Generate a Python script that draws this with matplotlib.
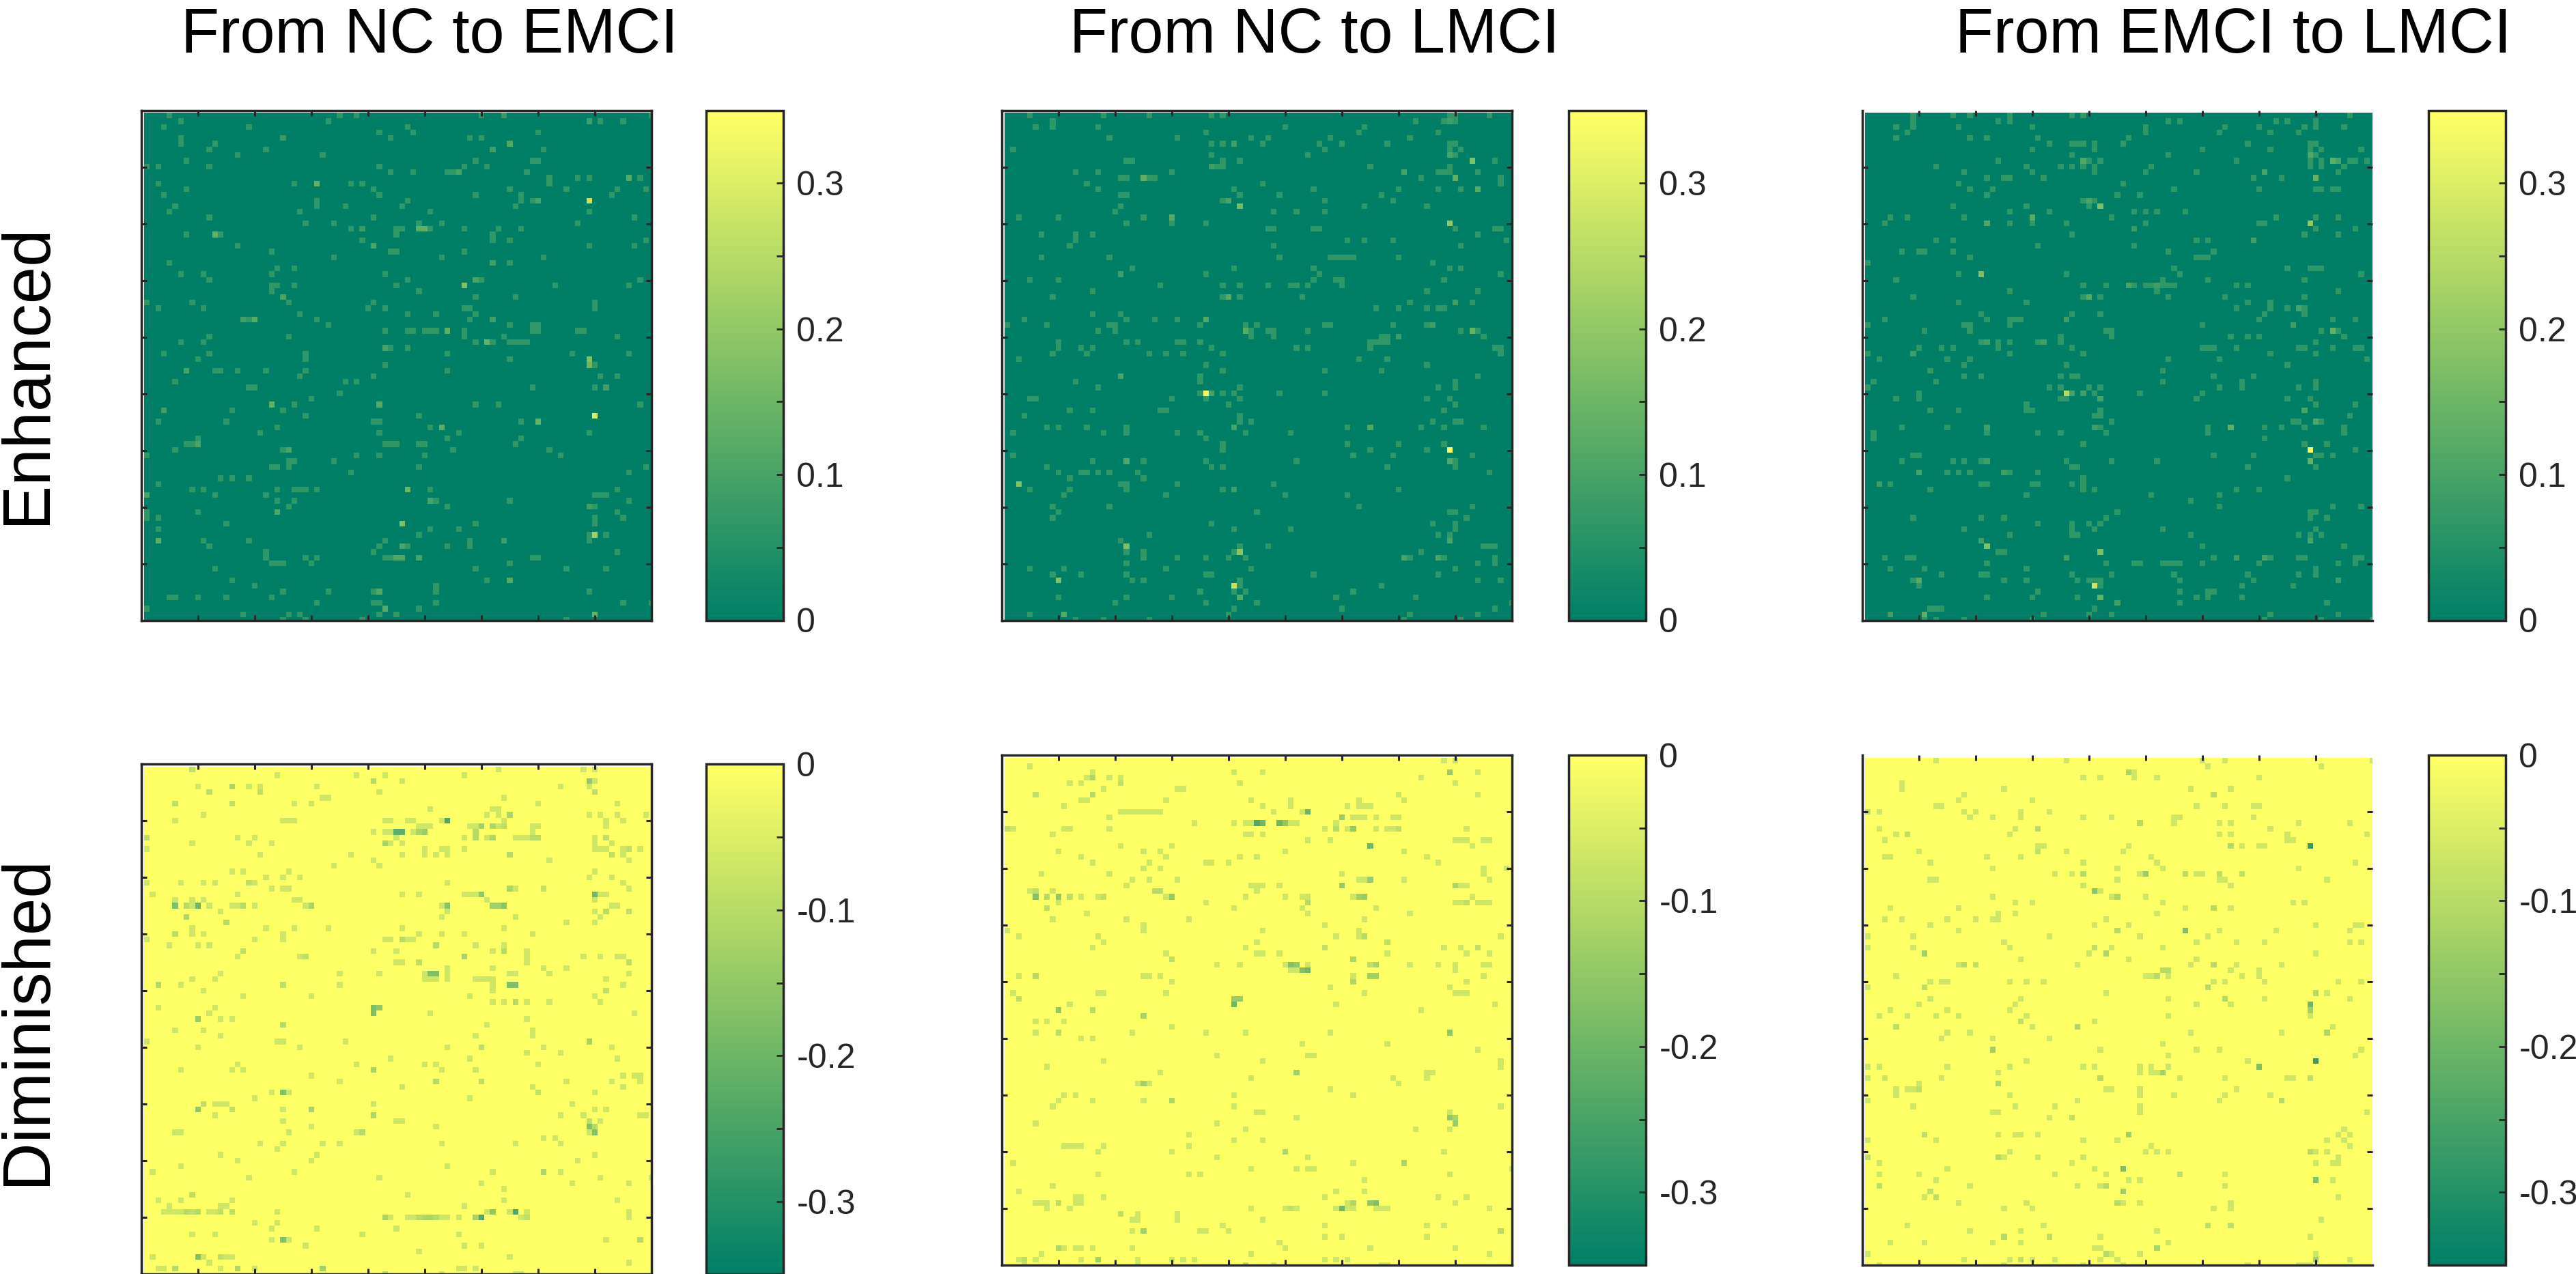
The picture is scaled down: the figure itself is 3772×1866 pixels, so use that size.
import matplotlib
matplotlib.use('Agg')
import matplotlib.pyplot as plt
import numpy as np

plt.rcParams['font.family'] = ['Liberation Sans', 'DejaVu Sans']

W, H = 3773, 1866

col_titles = ['From NC to EMCI', 'From NC to LMCI', 'From EMCI to LMCI']
row_titles = ['Enhanced', 'Diminished']
enh_ticks = [0, 0.1, 0.2, 0.3]
enh_labels = ['0', '0.1', '0.2', '0.3']
dim_ticks = [-0.3, -0.2, -0.1, 0]
dim_labels = ['-0.3', '-0.2', '-0.1', '0']
enh_minor = [0.05, 0.15, 0.25]
dim_minor = [-0.25, -0.15, -0.05]

faint_enh = 0.07
faint_dim = -0.07

# matrix cells that stand out: row -> columns (1-based, 90x90)
enh_nc_emci = {
    1: [5, 35, 38, 60, 64, 90], 2: [7, 33, 79, 81, 85], 3: [4, 19, 47], 4: [42, 48, 70],
    5: [7, 25, 44, 58, 60], 6: [7, 13, 65], 7: [12, 22, 62, 71], 8: [17, 32],
    9: [8, 59, 69, 70], 10: [1, 3, 12, 42, 57, 61], 11: [44, 48, 54, 55, 56, 68],
    12: [72, 77, 79, 86, 88], 13: [3, 27, 31, 37, 39, 72], 14: [8, 41, 65, 75, 84, 89],
    15: [4, 42, 59, 67, 83], 16: [31, 47, 67, 69, 70, 79], 17: [6, 31, 36, 46, 66],
    18: [5, 28, 51, 79], 19: [12, 41, 87], 20: [29, 34, 49, 53, 77],
    21: [37, 39, 45, 46, 49, 50, 51, 57, 63, 67], 22: [8, 13, 14, 45, 62],
    23: [39, 62, 65, 89], 24: [17, 41, 79, 87], 25: [23, 44, 45, 57], 26: [34, 53, 71],
    27: [5, 62, 65], 28: [24, 27], 29: [7, 11, 23, 43], 30: [12, 47, 59, 60, 88],
    31: [23, 24, 27, 45, 57, 73, 86], 32: [23, 49], 33: [25, 59, 66],
    34: [1, 9, 26, 41, 80], 35: [3, 11, 40, 43, 57, 58, 80], 36: [28, 47, 52, 59],
    37: [18, 19, 20, 31, 58, 62], 38: [33, 65, 69, 70],
    39: [43, 47, 48, 50, 51, 52, 54, 57, 69, 70, 77, 78], 40: [12, 26, 57, 64, 84],
    41: [7, 11, 59, 61, 62, 65, 66, 67, 68], 42: [43, 44, 47], 43: [4, 12, 29, 54, 76, 86],
    44: [10, 29, 65, 79], 45: [43, 79, 80], 46: [8, 13, 14, 17, 22, 29, 54],
    47: [28, 41, 81, 84], 48: [6, 36, 38], 49: [19, 20, 69, 80, 82], 50: [35], 51: [30],
    52: [23, 27, 42, 59, 63, 88], 53: [4, 16, 25], 54: [29, 49, 80],
    55: [3, 15, 41, 42, 67, 70], 56: [24, 51, 53], 57: [21, 42, 56, 79], 58: [10, 54, 67],
    59: [8, 9, 10, 43, 44, 45, 49, 50, 66], 60: [6, 25, 26, 55, 72], 61: [1, 38, 42, 50, 74],
    62: [26, 27, 34], 63: [23, 24, 26, 49, 89], 64: [37, 86], 65: [14, 16, 19], 66: [3],
    67: [9, 11, 24, 27, 28, 29, 31, 47, 51, 84], 68: [1, 13, 22, 80, 81, 82],
    69: [24, 27, 51, 52, 65, 86], 70: [26, 54, 79, 80], 71: [1, 10, 24, 84],
    72: [1, 3, 80, 85], 73: [15, 46, 59, 80], 74: [3, 51, 56], 75: [49, 79, 80, 82],
    76: [3, 11, 19, 43, 58, 64, 79], 77: [12, 42, 46, 47, 54, 58], 78: [22, 41, 84],
    79: [22, 29, 31, 43, 44, 45, 46, 49, 69, 70], 80: [23, 24, 25, 30, 65],
    81: [13, 59, 75, 82], 83: [16, 61, 65], 84: [20, 52], 85: [25, 33, 41, 42, 52, 79],
    86: [5, 6, 10, 15, 23], 87: [31, 41, 42, 52, 85, 90], 88: [1, 43, 49],
    89: [18, 26, 28, 42, 45, 80], 90: [25, 29, 39, 75],
}
enh_nc_emci_peaks = [
    (1, 64, .08), (2, 79, .09), (5, 25, .08), (6, 65, .11), (7, 62, .09), (11, 56, .1),
    (12, 86, .12), (13, 31, .14), (16, 70, .1), (16, 79, .27), (21, 39, .08), (21, 49, .13),
    (21, 50, .13), (22, 13, .14), (24, 41, .1), (27, 62, .09), (30, 59, .1), (31, 57, .18),
    (33, 25, .1), (37, 18, .09), (37, 20, .12), (37, 62, .09), (39, 54, .13), (41, 61, .14),
    (42, 43, .1), (44, 79, .18), (45, 79, .15), (46, 8, .1), (49, 82, .09), (52, 23, .13),
    (52, 42, .12), (53, 4, .09), (54, 80, .3), (55, 70, .14), (56, 53, .13), (59, 10, .1),
    (60, 26, .1), (67, 47, .15), (68, 1, .1), (69, 51, .1), (70, 79, .09), (71, 24, .11),
    (73, 46, .18), (75, 80, .22), (76, 3, .13), (76, 64, .09), (77, 46, .1), (79, 45, .11),
    (79, 46, .11), (79, 49, .1), (83, 65, .12), (85, 42, .11), (88, 43, .12), (89, 80, .14),
]

enh_nc_lmci = {
    1: [5, 18, 26, 37, 39, 79, 80, 86], 2: [9, 73, 78, 79, 80], 3: [6, 9, 17, 50, 64],
    4: [36, 63, 77], 5: [19, 31, 44, 47, 58, 72], 6: [37, 39, 41, 46, 56, 60, 68, 79, 80],
    7: [2, 57, 79, 81], 8: [37, 54, 79, 80], 9: [22, 23, 39, 42, 83, 87],
    10: [37, 38, 39, 65, 79], 11: [13, 17, 30, 71, 77, 78, 79, 84],
    12: [21, 22, 25, 26, 27, 74, 80, 88], 13: [15, 46, 88], 14: [17, 41, 55, 70, 77, 81, 84],
    15: [21, 22, 42, 49, 67], 16: [39, 40, 57, 69], 17: [21, 42, 64, 75],
    18: [20, 48, 52, 57], 19: [3, 10, 25, 30], 20: [22, 30, 36, 79],
    21: [47, 48, 55, 56, 80, 87, 88], 22: [7, 13, 16, 84], 23: [13, 61, 64, 69, 89],
    24: [12, 48, 81], 26: [7, 19, 49, 58, 59, 60, 61, 62, 70], 27: [76],
    28: [23, 41, 55, 79, 81], 29: [21, 36, 56, 88], 30: [5, 10, 55, 59, 60, 78],
    31: [28, 39, 42, 47, 51, 52, 54, 60], 32: [16, 75, 84], 33: [9, 39, 40, 42, 53],
    34: [72, 80, 83], 35: [66, 70, 75, 77, 78], 36: [16, 21], 37: [4, 22, 27, 31, 36],
    38: [1, 8, 19, 20, 35, 43, 45, 57, 58, 69, 75, 76],
    39: [17, 20, 43, 44, 47, 48, 54, 81, 83, 84], 40: [44, 48, 67, 68, 70, 85],
    41: [10, 22, 24, 31, 32, 35, 65, 66, 67, 68], 42: [10, 14, 16, 37, 52, 54, 65, 87, 88],
    43: [9, 15, 26, 29, 32, 39, 88], 44: [3, 63, 68], 45: [36, 75], 46: [39, 57, 67],
    47: [21, 35, 84], 48: [13, 35, 80], 49: [17, 42, 77, 80],
    50: [35, 36, 37, 39, 41, 49, 57], 51: [5, 6, 30, 36, 42, 75, 79], 52: [40, 80],
    53: [12, 16, 28, 29, 78], 54: [4, 42], 55: [42, 44, 76, 80, 81],
    56: [8, 10, 15, 22, 41, 61, 65, 74, 78, 85], 57: [2, 18, 22, 31, 35, 43, 51], 58: [36],
    59: [39, 61, 70, 78], 60: [39, 65, 75, 79], 61: [2, 62, 69, 83],
    62: [16, 22, 25, 36, 52, 79, 80], 63: [8, 37, 39, 68, 80], 64: [10, 14, 15, 17, 19, 24, 86],
    65: [12, 25], 66: [3, 21, 22, 31, 48], 67: [5, 12, 22, 39, 41, 70], 68: [11, 29, 50, 61],
    70: [9, 19, 63, 83], 71: [10, 45, 79, 80], 72: [9, 82], 73: [37, 76, 80], 74: [41, 51, 80],
    75: [26, 77, 79], 76: [21, 79], 77: [22, 42, 47, 85, 86, 87], 78: [22, 25, 41, 42, 74],
    79: [25, 31, 36, 40, 43, 71, 72, 77, 78, 87], 80: [22, 84, 87], 81: [5, 11, 29, 44, 80],
    82: [9, 14, 22, 36, 37, 55, 77], 83: [10, 23, 25, 42, 84, 88], 84: [41, 42, 67],
    85: [35, 41, 43, 62], 86: [10, 22, 30, 42, 59, 73], 87: [20, 36, 45, 90], 88: [41, 60, 87],
    89: [5, 11, 40, 72, 84], 90: [13, 18, 26, 71, 81],
}
enh_nc_lmci_peaks = [
    (2, 79, .09), (6, 41, .09), (8, 79, .1), (9, 83, .18), (10, 37, .09), (11, 71, .1),
    (12, 25, .13), (12, 80, .13), (14, 84, .12), (16, 40, .1), (17, 42, .16), (19, 30, .12),
    (20, 79, .2), (29, 21, .09), (33, 40, .12), (34, 80, .09), (37, 36, .11), (38, 76, .09),
    (39, 43, .12), (39, 83, .14), (40, 70, .09), (47, 21, .1), (50, 36, .33), (50, 37, .1),
    (56, 41, .1), (56, 65, .11), (60, 79, .35), (62, 22, .11), (62, 79, .11), (66, 3, .18),
    (67, 41, .09), (76, 79, .1), (77, 22, .18), (78, 42, .19), (79, 71, .1), (79, 77, .1),
    (83, 10, .18), (84, 41, .27), (86, 42, .12), (89, 11, .12),
]

enh_emci_lmci = {
    1: [9, 16, 19, 26, 37, 39, 86], 2: [9, 24, 26, 54, 56, 73, 75, 80],
    3: [6, 9, 17, 30, 50, 64, 70, 78, 80, 85], 4: [8, 50, 63, 72, 77], 5: [6, 19, 22, 31, 47],
    6: [33, 37, 38, 39, 41, 46, 68, 79, 80], 7: [30, 41, 60, 72, 79, 81, 88], 8: [37, 54, 79, 80],
    9: [24, 39, 40, 42, 66, 79, 81, 83, 84, 86, 87, 89],
    10: [13, 29, 35, 37, 39, 41, 51, 79, 81, 85], 11: [18, 30, 41, 50, 59, 71, 84],
    12: [22, 25, 26, 32, 69, 74, 80], 13: [17, 46], 14: [19, 23, 55, 70, 80, 81, 83, 84],
    15: [22, 45, 49], 16: [39, 40, 41], 17: [16, 29, 40, 42], 18: [26, 33, 48, 50, 52, 57],
    19: [5, 8, 18, 30, 44, 73, 80, 84], 20: [4, 22, 26, 30, 36, 50, 70, 71, 79],
    21: [48, 80, 87], 22: [37, 78, 84], 23: [13, 16, 59, 61, 69], 24: [31, 48],
    25: [7, 10, 11, 16, 54, 62], 26: [19, 59, 60, 61], 27: [1], 28: [55, 75, 79, 80, 81],
    29: [17, 21, 36, 56, 88], 30: [6, 53, 61, 78],
    31: [39, 43, 47, 48, 50, 51, 52, 53, 54, 55, 66, 68], 32: [26, 52, 84],
    33: [9, 39, 40, 42, 54, 64, 78], 34: [17, 29, 68, 72], 35: [66, 72, 75, 77, 78],
    36: [21, 37, 42, 71, 78], 37: [4, 22, 26, 27, 28, 36, 70, 83, 87],
    38: [1, 18, 19, 26, 60, 76], 39: [11, 19, 43, 44, 81, 83, 84], 40: [35, 44, 65, 68, 70, 85],
    41: [21, 22, 24, 26, 31, 32, 35, 80], 42: [10, 14, 16, 24, 37, 60, 61, 62, 66, 77, 78, 83, 87, 88],
    43: [1, 9, 26, 39, 72, 80], 44: [3, 15, 19, 54, 63, 89], 45: [18, 36, 75], 46: [12, 53],
    47: [18, 21, 35, 37, 38, 62, 69], 48: [2, 13, 53, 67, 80],
    49: [1, 33, 35, 40, 42, 63, 67, 77, 80], 50: [10, 36, 37, 39, 41, 49, 60],
    51: [6, 10, 35, 36, 42, 59, 75, 79], 52: [29, 80, 87], 53: [12, 17, 29, 30, 42, 78],
    54: [41, 42, 86], 55: [44, 76, 77, 80, 81], 56: [7, 15, 22, 41, 42, 61, 65, 71, 74, 78, 85],
    57: [2, 22, 31, 35, 43, 61, 85], 58: [2, 71], 59: [39, 78, 82], 60: [79, 87],
    61: [9, 10, 62, 69, 80, 81, 83], 62: [7, 16, 18, 21, 22, 36, 44, 52, 79], 63: [37, 38, 68, 80],
    64: [10, 15, 17, 19, 25, 26, 31], 65: [39, 75], 66: [3, 5, 21, 22, 30, 31, 37, 39],
    67: [12, 39, 41, 66, 70], 68: [29, 51, 63], 69: [58], 70: [63, 83, 88], 71: [45, 79, 80],
    72: [9, 21, 25, 43, 79, 82], 73: [31, 37, 40, 42], 74: [18, 37, 41, 53, 80],
    75: [26, 37, 38, 58, 77, 79, 81], 76: [21, 79], 77: [22, 60, 85], 78: [24, 25, 42],
    79: [4, 8, 9, 36, 62, 66, 71, 72, 77, 78, 87, 88],
    80: [22, 43, 48, 49, 53, 54, 55, 56, 60, 70, 84, 87], 81: [5, 11, 29, 80],
    82: [14, 21, 22, 37, 44, 55, 68, 77, 80], 83: [9, 10, 25, 29, 38, 40, 41, 42, 56, 69, 84],
    84: [10, 41, 42, 67, 76], 85: [31, 56, 61, 62], 86: [22, 30, 38, 42, 59, 61, 67],
    87: [45, 56, 82], 88: [12, 13, 14, 41], 89: [5, 11, 32, 40, 44, 72, 84],
    90: [11, 13, 18, 30, 71, 81, 90],
}
enh_emci_lmci_peaks = [
    (8, 79, .11), (9, 39, .11), (9, 83, .13), (9, 84, .1), (11, 71, .1), (12, 80, .14),
    (16, 40, .1), (17, 42, .17), (19, 30, .12), (20, 22, .11), (20, 79, .2), (21, 48, .08),
    (23, 69, .09), (29, 21, .17), (31, 47, .1), (31, 52, .09), (33, 40, .12), (35, 77, .1),
    (37, 36, .09), (38, 76, .09), (39, 83, .14), (41, 22, .09), (41, 32, .09), (43, 9, .09),
    (50, 36, .25), (50, 37, .1), (50, 39, .09), (51, 42, .1), (53, 78, .1), (55, 80, .11),
    (56, 22, .09), (56, 41, .09), (56, 65, .13), (60, 79, .34), (62, 22, .09), (62, 79, .14),
    (64, 10, .1), (64, 25, .09), (66, 3, .09), (76, 21, .09), (76, 79, .1), (77, 22, .18),
    (78, 42, .17), (79, 36, .09), (79, 66, .09), (79, 71, .1), (83, 10, .12), (83, 84, .09),
    (84, 41, .28), (86, 42, .14), (87, 45, .09), (89, 5, .09), (89, 11, .13),
]

dim_nc_emci = {
    1: [9, 63, 78, 80], 2: [24, 38, 43, 57], 3: [41, 46, 79, 80], 4: [10, 16, 19, 21, 31, 74, 79],
    5: [12, 21, 42, 80], 6: [32, 33, 64], 7: [6, 16, 27, 30, 70, 84], 8: [51, 62, 63],
    9: [11, 61, 63, 65, 79, 81, 84, 89], 10: [6, 25, 26, 27, 43, 44, 47, 48, 53, 54, 64, 82, 85],
    11: [49, 50, 51, 58, 59, 60, 62, 63, 64, 69, 70, 82], 12: [41, 43, 44, 45, 46, 48, 49, 50, 59, 69],
    13: [1, 17, 20, 45, 57, 59, 61, 62, 66, 67, 68, 69, 70, 80, 82], 14: [9, 19, 23, 43, 44, 46, 80, 83],
    15: [1, 50, 53, 54, 57, 80, 81, 82, 85, 86, 88], 16: [21, 37, 46, 50, 52, 54, 65, 83, 85],
    17: [41, 72, 86], 18: [34, 42], 19: [16, 18, 26, 80], 20: [22, 25, 28, 79, 83],
    21: [1, 7, 11, 13, 19, 20, 54, 85], 22: [23, 25, 26, 65, 66, 71, 86],
    23: [2, 17, 46, 49, 57, 58, 59, 60, 80, 81, 82], 24: [6, 9, 11, 27, 28, 61, 80],
    25: [6, 8, 9, 10, 12, 16, 17, 18, 20, 29, 30, 53, 54, 62, 63, 64, 83, 84],
    26: [14, 54, 80, 82, 86], 27: [8, 53, 66, 81], 28: [15, 75, 80], 29: [9, 22, 27, 33, 46, 64],
    30: [6, 9, 11, 25, 49, 53, 57, 69], 31: [1, 20, 25, 43, 44, 46, 47, 48], 32: [5, 10, 12, 52, 59, 64],
    33: [18, 41, 45, 62, 64, 68], 34: [17, 28, 29, 57, 68, 78, 81, 84, 85], 35: [45, 46, 49, 68, 86],
    36: [54, 62, 71, 75], 37: [14, 35, 42, 50, 51, 52, 54, 65, 66, 72, 86],
    38: [9, 13, 50, 51, 52, 54, 59, 60, 61, 62, 82], 39: [3, 7, 25, 35, 62, 65, 66, 85],
    40: [11, 62, 82], 41: [18, 30, 58, 80], 42: [62, 64, 66, 68, 72, 81], 43: [3, 13, 41, 42],
    44: [12, 41, 51, 87], 45: [10, 14, 16, 68], 46: [25, 61], 47: [6, 11, 69], 48: [14, 59, 69],
    49: [1, 24, 25, 36, 79], 50: [10, 28, 54, 60, 71, 83], 51: [68, 74], 52: [44, 58, 84],
    53: [17, 38, 50, 52, 70], 54: [7, 16, 18, 41, 53, 59], 55: [30, 85, 87, 88],
    56: [35, 52, 60, 75, 83, 88], 57: [46, 69, 85], 58: [23, 25, 26, 70, 80], 59: [20, 58],
    60: [11, 13, 14, 15, 41, 76], 61: [10, 16, 25, 30, 80, 82], 62: [13, 41, 74, 78, 88, 89],
    63: [25, 45, 46, 79, 81], 64: [30, 52, 79, 80], 65: [6, 7, 26, 38, 39, 79, 80], 66: [71, 73],
    67: [21, 25, 32, 35, 53, 66, 74], 68: [24], 69: [14, 31, 80], 70: [17, 30, 77], 71: [7, 54],
    72: [2, 27, 62, 71, 74], 73: [19, 42, 81, 90], 74: [60, 76, 86], 75: [64], 76: [9, 47],
    77: [3, 7, 16, 64, 84], 78: [5, 14, 15, 57],
    79: [4, 5, 6, 7, 8, 9, 10, 12, 13, 14, 16, 24, 61, 62, 65, 66, 68, 86],
    80: [43, 44, 47, 48, 49, 50, 51, 52, 53, 54, 56, 59, 60, 67, 68, 86], 81: [20, 24],
    82: [23, 31, 45], 83: [9, 13, 39, 56], 84: [23, 25, 26, 82, 88], 85: [29, 57, 60], 86: [49],
    87: [2, 10, 11, 14, 15, 16, 65], 88: [12, 86], 89: [3, 4, 6, 14, 17, 20, 32, 56, 57, 59],
    90: [43, 53, 66, 67],
}
dim_nc_emci_peaks = [
    (1, 9, -.09), (3, 41, -.1), (3, 79, -.15), (4, 16, -.11), (5, 12, -.09), (5, 21, -.09),
    (5, 80, -.09), (7, 6, -.09), (7, 16, -.09), (9, 65, -.12), (10, 54, -.24), (11, 60, -.13),
    (11, 62, -.11), (11, 64, -.09), (12, 45, -.22), (12, 46, -.22), (12, 49, -.12), (12, 50, -.14),
    (12, 59, -.1), (13, 1, -.09), (13, 59, -.1), (13, 62, -.11), (13, 69, -.1), (13, 70, -.1),
    (13, 82, -.09), (14, 43, -.12), (15, 86, -.09), (16, 65, -.1), (16, 83, -.09), (21, 19, -.09),
    (22, 65, -.12), (22, 71, -.08), (23, 60, -.15), (23, 80, -.2), (25, 6, -.18), (25, 8, -.1),
    (25, 10, -.2), (25, 18, -.1), (25, 30, -.12), (25, 54, -.16), (25, 62, -.13), (25, 63, -.13),
    (25, 64, -.16), (26, 82, -.1), (26, 86, -.09), (27, 8, -.11), (28, 15, -.1), (30, 6, -.09),
    (31, 46, -.1), (32, 52, -.1), (33, 18, -.09), (33, 64, -.1), (34, 29, -.09), (34, 57, -.12),
    (35, 49, -.09), (35, 86, -.09), (37, 51, -.17), (37, 52, -.17), (39, 3, -.1), (39, 25, -.09),
    (39, 65, -.17), (39, 66, -.17), (40, 82, -.09), (42, 66, -.1), (43, 41, -.18), (43, 42, -.15),
    (44, 41, -.18), (45, 10, -.14), (46, 25, -.1), (49, 79, -.12), (50, 60, -.09), (54, 41, -.12),
    (56, 52, -.1), (56, 60, -.09), (58, 25, -.17), (58, 70, -.09), (60, 11, -.09), (61, 10, -.15),
    (61, 16, -.09), (61, 30, -.12), (62, 41, -.11), (63, 79, -.09), (64, 79, -.17), (64, 80, -.1),
    (65, 39, -.1), (65, 80, -.17), (72, 71, -.11), (76, 9, -.09), (79, 8, -.1), (79, 9, -.09),
    (79, 10, -.1), (79, 14, -.09), (79, 16, -.09), (79, 62, -.15), (79, 66, -.24), (80, 43, -.12),
    (80, 49, -.1), (80, 50, -.11), (80, 51, -.12), (80, 52, -.1), (80, 59, -.12), (80, 60, -.24),
    (80, 68, -.09), (84, 25, -.17), (84, 88, -.1), (87, 10, -.17), (87, 14, -.09), (89, 6, -.1),
    (89, 17, -.11), (89, 32, -.13), (90, 43, -.1),
]

dim_nc_lmci = {
    1: [78, 80], 2: [5], 3: [16, 41, 46, 79, 84], 4: [15, 16, 19, 21, 74], 5: [12, 14, 21, 42, 80],
    6: [18, 31, 32], 7: [6, 16, 70, 84], 8: [14, 15, 29, 44, 51, 63, 71], 9: [11, 46, 51, 61, 63, 64, 65],
    10: [21, 22, 23, 24, 25, 26, 27, 28, 48, 53, 54], 11: [19, 60, 62, 63, 64, 66, 69, 70],
    12: [34, 41, 43, 44, 45, 46, 49, 50, 51, 52, 59], 13: [1, 2, 11, 12, 19, 57, 59, 61, 62, 66, 68, 69, 70, 82],
    14: [9, 43, 44, 46], 15: [54, 58, 80, 81, 82, 85, 86], 16: [21, 30, 65, 83], 17: [10, 25, 28, 50, 71],
    18: [14, 29, 42, 45, 75], 19: [16, 26, 36, 37, 40, 77], 20: [25, 28, 85, 89], 21: [7, 19, 60, 85],
    22: [23, 26, 31, 63, 64, 65, 71, 86], 23: [22, 44, 45, 46, 49, 60, 80, 81, 82], 24: [5, 6, 9, 27, 28, 45],
    25: [6, 8, 10, 12, 14, 17, 18, 29, 30, 43, 50, 53, 54, 62, 63, 64, 83],
    26: [10, 36, 54, 80, 81, 82, 84, 85, 86], 27: [8, 41, 53, 66], 28: [15, 54, 72], 29: [9, 22, 33, 64],
    30: [25, 57], 31: [1, 25, 46, 63], 32: [3, 17, 63, 64, 59, 88], 33: [18, 45, 68], 34: [16, 43, 57, 78, 81, 84],
    35: [29, 45, 46, 49, 68, 82, 86], 36: [30, 62], 37: [38, 42, 50, 51, 52, 54, 65, 66, 72, 77, 80, 85, 86],
    38: [51, 52, 53, 54, 80], 39: [3, 6, 25, 26, 28, 62, 65, 66, 85], 40: [30, 62, 82], 41: [58, 79],
    42: [2, 17, 18, 29, 64, 80, 81, 82], 43: [3, 41, 42], 44: [12, 41, 59, 87], 45: [10, 16, 74], 46: [25],
    47: [6, 8, 11], 48: [30], 49: [6, 10, 23, 36, 43, 58, 79], 50: [14, 16], 51: [53, 68], 52: [84],
    53: [38, 54, 55], 54: [18, 46, 88], 55: [8, 88], 56: [28, 52, 75, 76], 57: [44, 69, 75],
    58: [24, 25, 26, 70], 59: [58], 60: [11, 13, 41, 62], 61: [10, 16, 25, 30], 62: [9, 41, 88],
    63: [45, 46, 79], 64: [52, 79, 80], 65: [6, 38, 80], 66: [43, 73, 79], 67: [33], 68: [41, 46],
    69: [11, 12, 13, 14, 18, 33], 70: [17, 30, 50, 78], 71: [38, 54], 72: [2, 62, 71],
    73: [44, 52, 54, 55, 90], 74: [17, 33, 35, 79], 75: [64], 76: [9], 77: [3, 59, 64],
    78: [13, 14, 18, 57, 77, 82], 79: [6, 7, 8, 10, 13, 14, 61, 62, 65, 66, 80],
    80: [8, 12, 44, 50, 51, 52, 59, 60, 61, 62, 66, 67, 68, 86], 81: [21, 24, 31], 82: [23, 24, 31, 46],
    83: [39, 57, 75, 78], 84: [23, 25, 35, 36, 40, 88], 85: [57, 60, 75], 86: [49],
    87: [10, 11, 13, 14, 16, 23, 50, 65, 80], 88: [7, 44, 86],
    89: [3, 4, 6, 14, 17, 24, 30, 32, 34, 57, 59, 61], 90: [4, 24, 43, 48, 67, 68],
}
dim_nc_lmci_peaks = [
    (3, 79, -.14), (4, 16, -.11), (5, 21, -.09), (7, 6, -.09), (7, 16, -.1), (10, 54, -.2),
    (11, 60, -.14), (12, 45, -.24), (12, 46, -.2), (12, 49, -.2), (12, 50, -.15), (13, 1, -.09),
    (13, 59, -.1), (13, 62, -.15), (13, 70, -.09), (16, 65, -.2), (22, 65, -.14), (23, 60, -.14),
    (23, 80, -.12), (24, 6, -.09), (24, 27, -.1), (24, 28, -.1), (25, 6, -.17), (25, 8, -.1),
    (25, 10, -.15), (25, 12, -.09), (25, 18, -.09), (25, 30, -.15), (25, 63, -.13), (25, 64, -.14),
    (26, 54, -.1), (26, 82, -.09), (27, 8, -.09), (32, 64, -.1), (33, 68, -.09), (34, 57, -.09),
    (34, 84, -.09), (36, 30, -.09), (36, 62, -.11), (37, 51, -.17), (37, 52, -.15), (37, 65, -.09),
    (37, 66, -.12), (38, 53, -.17), (38, 54, -.2), (39, 6, -.1), (39, 65, -.13), (39, 66, -.13),
    (40, 62, -.11), (43, 3, -.09), (43, 41, -.14), (43, 42, -.14), (44, 41, -.2), (45, 10, -.15),
    (45, 16, -.1), (46, 25, -.12), (49, 10, -.09), (49, 79, -.15), (56, 52, -.13), (58, 25, -.13),
    (61, 30, -.11), (64, 79, -.15), (64, 80, -.12), (65, 80, -.14), (70, 50, -.11), (72, 71, -.12),
    (79, 10, -.09), (79, 62, -.11), (79, 65, -.15), (79, 66, -.17), (80, 51, -.09), (80, 60, -.2),
    (81, 21, -.09), (84, 25, -.13), (84, 88, -.1), (87, 10, -.11), (89, 4, -.09), (89, 17, -.13),
    (90, 43, -.1),
]

dim_emci_lmci = {
    1: [13, 36, 60, 64, 90], 2: [61, 81], 3: [47, 48], 4: [39, 42, 48, 52, 70], 5: [7], 6: [7, 25, 58, 65],
    7: [18, 62], 8: [17, 30], 9: [13, 14, 59, 64, 69, 70], 10: [1, 3, 18, 20, 28, 33],
    11: [19, 23, 28, 39, 44, 55, 56, 69], 12: [49, 55, 63, 65, 77, 86], 13: [3, 27, 31, 72],
    14: [6, 8, 26, 63, 65, 75, 89], 15: [4, 75, 76], 16: [31, 32, 47, 65, 67, 70, 71, 79],
    17: [10, 31, 36, 46], 18: [4, 5, 22, 28, 51], 19: [12, 39, 52, 87], 20: [23, 45, 53, 77],
    21: [34, 37, 39, 49, 50, 57, 59, 60, 63, 67], 22: [12, 13, 45, 63, 64, 82], 23: [39, 65],
    24: [41, 42], 25: [23, 44, 45, 50], 26: [27, 30, 53, 76, 78], 27: [5, 17, 57, 62, 65],
    28: [24, 27, 52], 29: [4, 7, 15, 20, 23, 24, 43], 30: [12, 41, 47, 80, 87, 88],
    31: [17, 45, 57, 63, 73, 86], 32: [1, 9, 33, 49, 61], 33: [25, 59, 66, 71, 86, 88],
    34: [1, 9, 26, 41, 44, 53], 35: [11, 40, 43, 80], 36: [28, 47, 59],
    37: [17, 18, 20, 38, 58, 62, 66, 74], 38: [53, 54, 65, 70], 39: [6, 50, 51, 52, 54, 67, 70],
    40: [12, 14, 15, 26, 29, 32, 62, 64, 71, 84, 88], 41: [1, 11, 61], 42: [43, 80, 82],
    43: [12, 28, 54, 64, 71, 86], 44: [10, 27, 59, 65, 79], 45: [5, 15, 26, 79],
    46: [3, 8, 13, 17, 29, 54, 79], 47: [28, 41], 48: [6, 30, 38, 83], 49: [15, 19, 58, 74, 82],
    50: [14, 23, 33], 51: [53], 52: [23, 42, 59, 63, 88], 53: [54, 87], 54: [29, 68, 80],
    55: [1, 3, 15, 26, 39, 41, 49, 51, 54, 70], 56: [24, 49, 51, 52, 53],
    57: [1, 4, 14, 42, 56, 64, 75, 76, 79], 58: [10, 24], 59: [6, 8, 9, 10, 43, 44, 49, 66],
    60: [6, 26, 49, 55, 64, 72], 61: [1, 38, 63, 74], 62: [9, 27, 34, 49], 63: [23, 24, 49, 89],
    64: [33, 37], 66: [85], 67: [11, 24, 27, 28, 31, 47, 84, 86], 68: [1, 13, 39, 45, 82, 85],
    69: [51, 86], 70: [26, 50, 52, 54, 79, 80, 82], 71: [1, 24, 25, 31, 39, 84],
    72: [3, 37, 80, 83, 84], 73: [15, 41, 46], 74: [3, 10, 34, 43, 56, 64],
    75: [13, 47, 49, 80, 83], 76: [3, 19, 38, 42, 43, 64], 77: [12, 46], 78: [11, 13, 84],
    79: [17, 29, 45, 46, 49, 65], 80: [25, 30, 62, 65], 82: [81], 83: [8, 32, 61, 65],
    84: [19, 28, 52], 85: [25, 33, 42, 79], 86: [5, 11, 23, 28, 54], 87: [41, 42, 52],
    88: [1, 43, 44, 49, 80], 89: [18, 26, 28, 30, 34, 42, 45, 80, 86],
    90: [3, 25, 39, 46, 68, 77, 78, 79],
}
dim_emci_lmci_peaks = [
    (3, 47, -.11), (7, 62, -.1), (10, 1, -.09), (12, 49, -.1), (13, 31, -.1), (14, 8, -.09),
    (16, 65, -.1), (16, 79, -.27), (17, 31, -.09), (21, 39, -.1), (21, 50, -.14), (21, 57, -.09),
    (21, 63, -.09), (21, 67, -.09), (24, 41, -.16), (25, 45, -.11), (27, 62, -.1), (31, 45, -.1),
    (31, 57, -.17), (34, 41, -.09), (35, 11, -.13), (35, 43, -.11), (37, 18, -.1), (37, 20, -.09),
    (37, 62, -.1), (38, 53, -.1), (38, 54, -.1), (39, 52, -.1), (41, 11, -.09), (41, 61, -.1),
    (42, 80, -.1), (43, 64, -.1), (44, 79, -.2), (45, 79, -.13), (47, 28, -.09), (48, 6, -.09),
    (48, 38, -.11), (49, 82, -.11), (52, 23, -.13), (54, 80, -.27), (55, 70, -.17), (56, 53, -.13),
    (57, 42, -.1), (57, 79, -.09), (58, 24, -.11), (59, 10, -.09), (61, 74, -.1), (64, 37, -.09),
    (67, 11, -.09), (67, 47, -.13), (70, 79, -.1), (71, 1, -.09), (71, 24, -.1), (73, 46, -.17),
    (74, 56, -.09), (75, 80, -.17), (76, 3, -.09), (76, 43, -.1), (77, 12, -.09), (77, 46, -.13),
    (78, 13, -.09), (79, 45, -.1), (83, 61, -.09), (83, 65, -.09), (85, 25, -.1), (85, 33, -.09),
    (87, 52, -.12), (88, 43, -.1), (89, 28, -.09), (89, 80, -.13),
]


def build_matrix(cells, peaks, base):
    m = np.zeros((90, 90))
    for r, cols in cells.items():
        for c in cols:
            m[r - 1, c - 1] = base
    for r, c, v in peaks:
        m[r - 1, c - 1] = v
    return m


def px_axes(x0, y0, x1, y1):
    # pixel box, measured from the top left of the picture
    return fig.add_axes([x0 / W, 1 - y1 / H, (x1 - x0) / W, (y1 - y0) / H])


fig = plt.figure(figsize=(W / 100, H / 100), dpi=100)
cmap = plt.get_cmap('summer', 64)
dark = '#262626'

ax_lefts = [206.7, 1466.7, 2726.7]
cb_lefts = [1034, 2297, 3556]
row_tops = [[161.5, 161.5, 161.5], [1119.5, 1106, 1106]]
side = 747

panels = [
    [(enh_nc_emci, enh_nc_emci_peaks), (enh_nc_lmci, enh_nc_lmci_peaks), (enh_emci_lmci, enh_emci_lmci_peaks)],
    [(dim_nc_emci, dim_nc_emci_peaks), (dim_nc_lmci, dim_nc_lmci_peaks), (dim_emci_lmci, dim_emci_lmci_peaks)],
]

for i in range(2):
    for j in range(3):
        cells, peaks = panels[i][j]
        top = row_tops[i][j]
        ax = px_axes(ax_lefts[j], top, ax_lefts[j] + side, top + side)
        if i == 0:
            m = build_matrix(cells, peaks, faint_enh)
            vmin, vmax = 0, 0.35
        else:
            m = build_matrix(cells, peaks, faint_dim)
            vmin, vmax = -0.35, 0
        im = ax.imshow(m, cmap=cmap, vmin=vmin, vmax=vmax, aspect='auto',
                       interpolation='nearest', extent=[0.5, 90.5, 90.5, 0.5])
        ax.set_xlim(0, 90)
        ax.set_ylim(90, 0)
        ax.set_xticks(np.arange(10, 90, 10))
        ax.set_yticks(np.arange(10, 90, 10))
        ax.set_xticklabels([])
        ax.set_yticklabels([])
        ax.tick_params(direction='in', length=5.5, width=2.2, color=dark,
                       top=True, right=True)
        for s in ax.spines.values():
            s.set_linewidth(2.5)
            s.set_color(dark)
        if j == 2:
            ax.spines['top'].set_visible(False)
            ax.spines['right'].set_visible(False)

        cax = px_axes(cb_lefts[j], top, cb_lefts[j] + 113, top + side)
        cb = fig.colorbar(im, cax=cax)
        if i == 0:
            cb.set_ticks(enh_ticks, labels=enh_labels)
            cb.set_ticks(enh_minor, minor=True)
        else:
            cb.set_ticks(dim_ticks, labels=dim_labels)
            cb.set_ticks(dim_minor, minor=True)
        cax.tick_params(which='both', direction='in', length=7, width=2, color=dark,
                        labelsize=36, labelcolor=dark, pad=14)
        cb.outline.set_linewidth(2.5)
        cb.outline.set_edgecolor(dark)

title_x = [629, 1925, 3270]
for x, t in zip(title_x, col_titles):
    fig.text(x / W, 1 - 77 / H, t, fontsize=66, color='black', ha='center', va='baseline')

fig.text(41 / W, 1 - 548 / H, row_titles[0], fontsize=70.5, color='black',
         rotation=90, ha='center', va='center')
fig.text(41 / W, 1 - 1494 / H, row_titles[1], fontsize=70.5, color='black',
         rotation=90, ha='center', va='center')

fig.savefig('out.png', dpi=100)
